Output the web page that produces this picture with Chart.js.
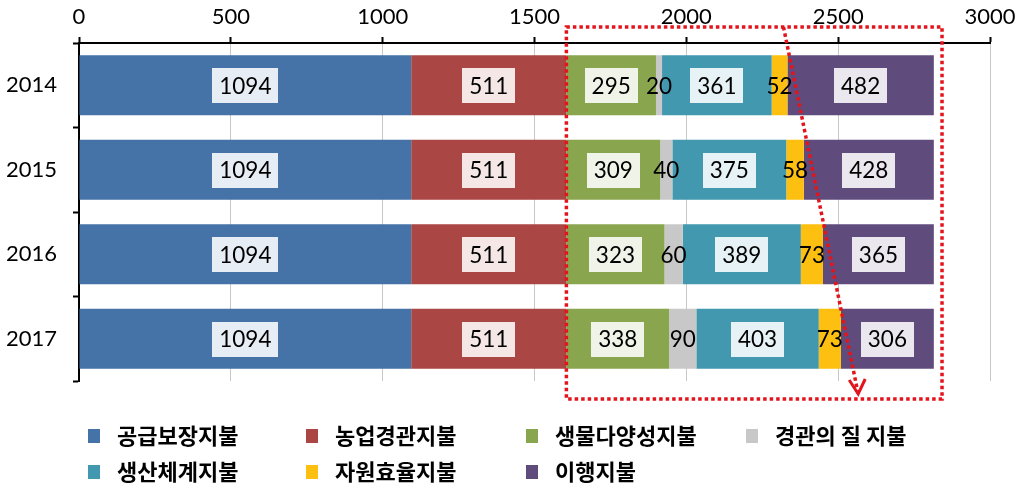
<!DOCTYPE html>
<html><head><meta charset="utf-8">
<script src="https://cdn.jsdelivr.net/npm/chart.js@4.4.1/dist/chart.umd.min.js"></script>
<style>html,body{margin:0;padding:0;background:#fff;}#wrap{width:1023px;height:502px;position:relative;}</style>
</head><body><div id="wrap"><canvas id="c" width="1023" height="502"></canvas></div>
<script>
const categories = ['2014', '2015', '2016', '2017'];
const seriesNames = ['공급보장지불', '농업경관지불', '생물다양성지불', '경관의 질 지불', '생산체계지불', '자원효율지불', '이행지불'];
const supplySecurity = [1094, 1094, 1094, 1094];
const farmLandscape = [511, 511, 511, 511];
const biodiversity = [295, 309, 323, 338];
const landscapeQuality = [20, 40, 60, 90];
const productionSystem = [361, 375, 389, 403];
const resourceEfficiency = [52, 58, 73, 73];
const transition = [482, 428, 365, 306];
const xTicks = [0, 500, 1000, 1500, 2000, 2500, 3000];
const seriesColors = ['#4572A7', '#AA4643', '#89A54E', '#C8C8C8', '#4198AF', '#FDC010', '#5F4B7C'];
// annotation anchors in data units
const highlightFrom = 1605, highlightTo = 2842;
const arrowFrom = 2320, arrowTo = 2566;

const seriesData = [supplySecurity, farmLandscape, biodiversity, landscapeQuality, productionSystem, resourceEfficiency, transition];

const labelPlugin = {
  id: 'labels',
  afterDatasetsDraw(chart) {
    const ctx = chart.ctx;
    ctx.save();
    ctx.font = '22.5px Lato';
    ctx.textAlign = 'center';
    ctx.textBaseline = 'middle';
    chart.data.datasets.forEach((ds, di) => {
      const meta = chart.getDatasetMeta(di);
      meta.data.forEach((el, i) => {
        const v = ds.data[i];
        const cx = (el.x + el.base) / 2;
        const cy = el.y;
        const txt = String(v);
        const w = ctx.measureText(txt).width;
        if (v >= 100) {
          ctx.fillStyle = 'rgba(255,255,255,0.87)';
          ctx.fillRect(Math.round(cx - w / 2 - 7), Math.round(cy - 17), Math.round(w + 14), 35);
        }
        ctx.fillStyle = '#000';
        ctx.fillText(txt, cx, cy + 1);
      });
    });
    ctx.restore();
  },
  afterDraw(chart) {
    const ctx = chart.ctx;
    const xs = chart.scales.x;
    const area = chart.chartArea;
    ctx.save();
    ctx.strokeStyle = '#E3141C';
    ctx.lineWidth = 3.5;
    ctx.setLineDash([3.5, 3]);
    const l = xs.getPixelForValue(highlightFrom), r = xs.getPixelForValue(highlightTo);
    const t = area.top - 16, b = area.bottom + 18;
    ctx.strokeRect(l, t, r - l, b - t);
    const x1 = xs.getPixelForValue(arrowFrom), x2 = xs.getPixelForValue(arrowTo);
    const y2 = b - 5;
    ctx.beginPath();
    ctx.moveTo(x1, t);
    ctx.lineTo(x2, y2);
    ctx.stroke();
    ctx.setLineDash([]);
    ctx.lineWidth = 3;
    ctx.beginPath();
    ctx.moveTo(x2 - 9, y2 - 14);
    ctx.lineTo(x2, y2);
    ctx.lineTo(x2 + 7, y2 - 15);
    ctx.stroke();

    // legend
    const cols = [88, 306, 526, 746];
    const rows = [436, 472];
    ctx.font = 'bold 22px "Noto Sans CJK KR"';
    ctx.textAlign = 'left';
    ctx.textBaseline = 'middle';
    chart.data.datasets.forEach((ds, i) => {
      const x = cols[i % 4], y = rows[Math.floor(i / 4)];
      ctx.fillStyle = ds.backgroundColor;
      ctx.fillRect(x, y - 7, 12, 14);
      ctx.fillStyle = '#000';
      ctx.fillText(ds.label, x + 29, y);
    });
    ctx.restore();
  }
};

new Chart(document.getElementById('c'), {
  type: 'bar',
  data: {
    labels: categories,
    datasets: seriesNames.map((n, i) => ({
      label: n,
      data: seriesData[i],
      backgroundColor: seriesColors[i],
      borderWidth: 0,
      categoryPercentage: 1,
      barPercentage: 0.71
    }))
  },
  options: {
    indexAxis: 'y',
    responsive: false,
    animation: false,
    layout: { padding: { left: 0, right: 33, top: 0, bottom: 121 } },
    plugins: { legend: { display: false }, tooltip: { enabled: false } },
    scales: {
      x: {
        position: 'top',
        stacked: true,
        min: 0, max: 3000,
        afterBuildTicks(s) { s.ticks = xTicks.map(v => ({ value: v })); },
        afterFit(s) { s.height = 43; },
        ticks: { font: { family: 'Lato', size: 22 }, color: '#000', padding: 7, callback: v => String(v) },
        grid: { color: '#C8C8C8', lineWidth: 1, tickLength: 6, tickColor: '#000', tickWidth: 2 },
        border: { color: '#000', width: 2 }
      },
      y: {
        stacked: true,
        afterFit(s) { s.width = 79; },
        ticks: { font: { family: 'Lato', size: 22 }, color: '#000', padding: 16 },
        grid: { offset: true, drawOnChartArea: false, tickLength: 6, tickColor: '#000', tickWidth: 2 },
        border: { color: '#000', width: 2 }
      }
    }
  },
  plugins: [labelPlugin]
});
</script></body></html>
